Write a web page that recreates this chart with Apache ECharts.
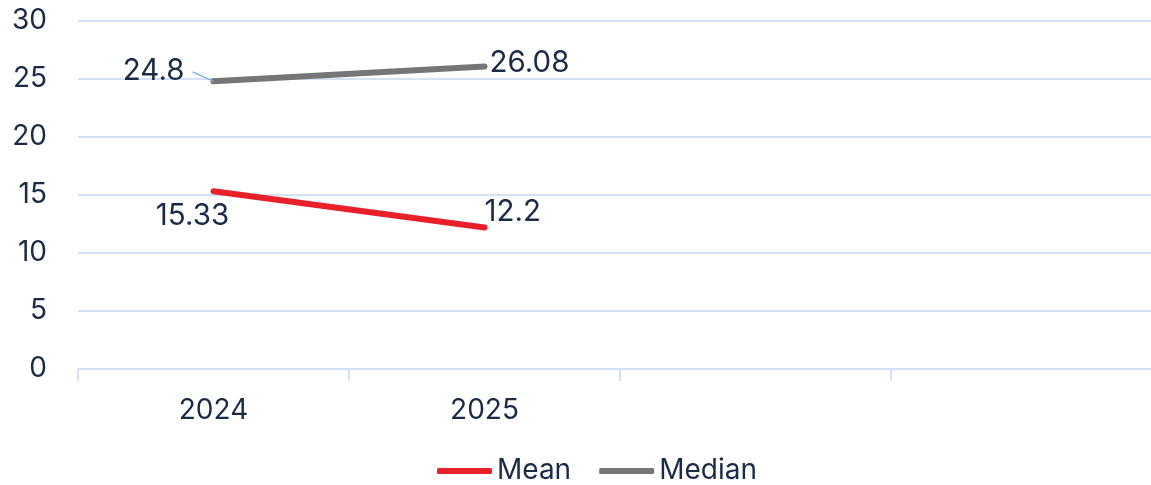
<!DOCTYPE html>
<html>
<head>
<meta charset="utf-8">
<script src="https://cdn.jsdelivr.net/npm/echarts@6/dist/echarts.min.js"></script>
<style>
html,body{margin:0;padding:0;background:#fff;}
#chart{width:1151px;height:485px;}
</style>
</head>
<body>
<div id="chart"></div>
<script>
// categories: two years with data, two empty slots on the axis
var years = ['2024', '2025', '', ''];
var meanValues = [15.33, 12.2];
var medianValues = [24.8, 26.08];
var yTicks = [0, 5, 10, 15, 20, 25, 30];

var textColor = '#1b2a45';
var gridColor = '#d3e3f5';
var font = 'Inter';

var chart = echarts.init(document.getElementById('chart'));

var option = {
	animation: false,
	textStyle: {fontFamily: font},
	grid: {left: 78, top: 21, width: 1084, bottom: 116, containLabel: false, outerBoundsMode: 'none'},
	legend: {
		top: 452,
		left: 432,
		itemWidth: 55,
		itemHeight: 6,
		itemGap: 28,
		data: ['Mean', 'Median'],
		icon: 'roundRect',
		textStyle: {fontSize: 28, color: textColor, fontFamily: font}
	},
	xAxis: {
		type: 'category',
		data: years,
		boundaryGap: true,
		axisLine: {lineStyle: {color: gridColor, width: 2}},
		axisTick: {show: true, length: 12, lineStyle: {color: gridColor, width: 2}},
		axisLabel: {fontSize: 28, color: textColor, margin: 28, fontFamily: font},
		splitLine: {show: false}
	},
	yAxis: {
		type: 'value',
		min: yTicks[0],
		max: yTicks[yTicks.length - 1],
		interval: 5,
		axisLine: {show: false},
		axisTick: {show: false},
		axisLabel: {fontSize: 28, color: textColor, margin: 31, fontFamily: font},
		splitLine: {lineStyle: {color: gridColor, width: 2}}
	},
	series: [
		{
			name: 'Mean',
			type: 'line',
			data: [
				{value: meanValues[0], label: {position: 'bottom', distance: 10, offset: [-21, 0]}},
				{value: meanValues[1], label: {position: 'right', distance: 0, offset: [0, -15]}}
			],
			symbol: 'circle',
			symbolSize: 0,
			lineStyle: {color: '#e8202a', width: 6, cap: 'round'},
			itemStyle: {color: '#e8202a'},
			label: {show: true, fontSize: 29.5, color: textColor, fontFamily: font}
		},
		{
			name: 'Median',
			type: 'line',
			data: [
				{value: medianValues[0],
					label: {position: 'left', distance: 21, offset: [0, -10], lineHeight: 1, padding: [0, 8, 0, 0]},
					labelLine: {show: true, length2: 13, lineStyle: {color: '#7fb2e5', width: 1.5}}},
				{value: medianValues[1], label: {position: 'right', distance: 5, offset: [0, -3]}}
			],
			symbol: 'circle',
			symbolSize: 0,
			lineStyle: {color: '#767676', width: 6, cap: 'round'},
			itemStyle: {color: '#767676'},
			label: {show: true, fontSize: 29.5, color: textColor, fontFamily: font}
		}
	]
};

chart.setOption(option);
</script>
</body>
</html>
